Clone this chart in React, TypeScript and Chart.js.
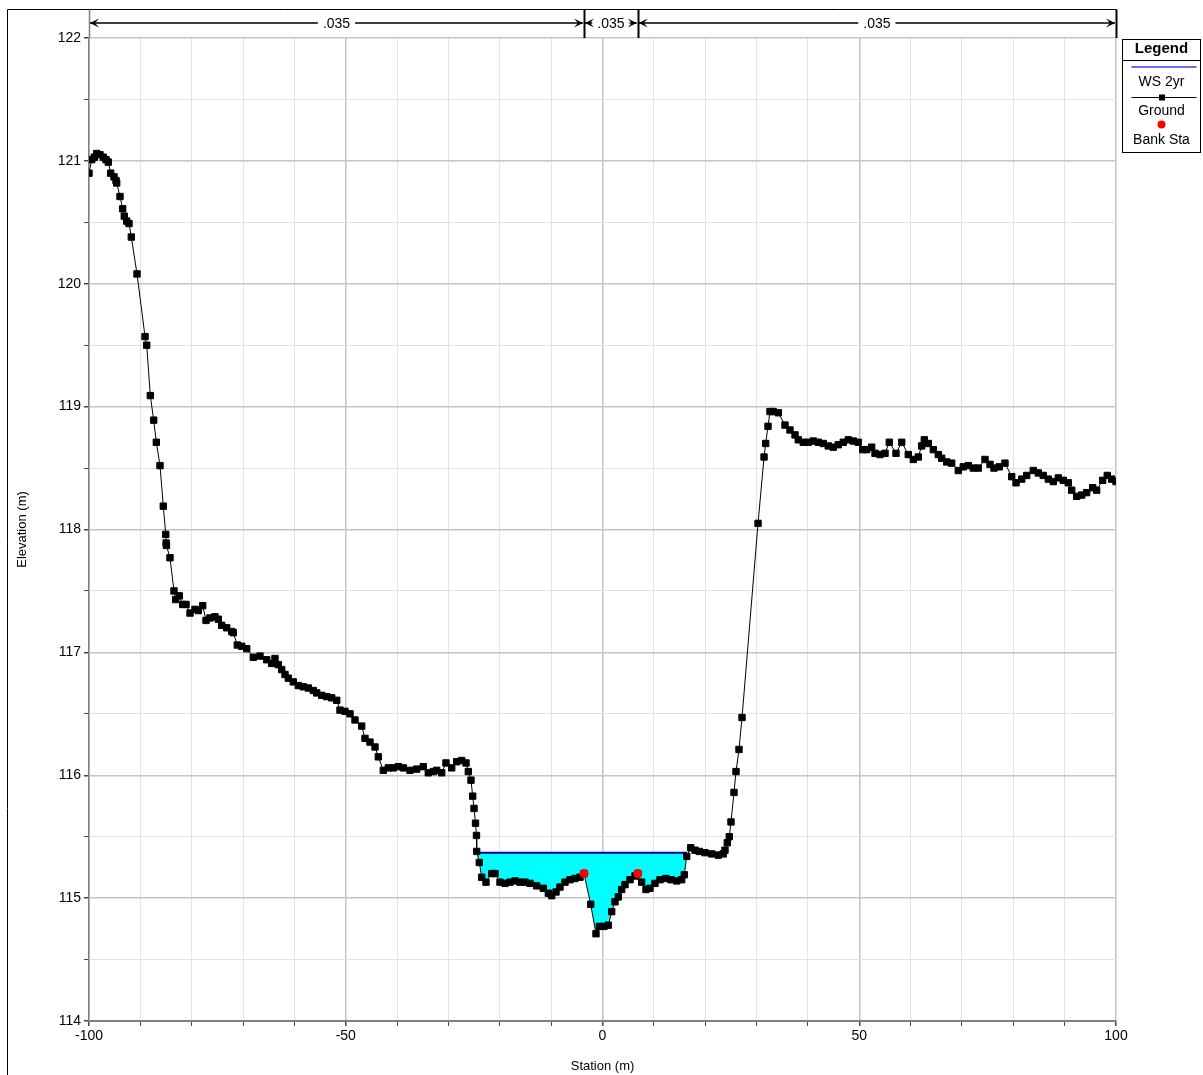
import React, { useEffect, useRef } from 'react';
import { Chart, registerables } from 'chart.js';

Chart.register(...registerables);

// ---------- data ----------
const groundStation = [
  -100.0, -99.47, -98.97, -98.5, -97.86, -97.22, -96.69, -96.24, -95.77, -95.13,
  -94.74, -94.61, -93.96, -93.44, -93.13, -92.66, -92.21, -91.76, -90.65, -89.09,
  -88.76, -88.06, -87.4, -86.89, -86.17, -85.53, -85.05, -84.98, -84.92, -84.23,
  -83.45, -83.12, -82.41, -81.75, -81.11, -80.33, -79.36, -78.71, -77.86, -77.21,
  -76.44, -75.47, -74.82, -74.16, -73.18, -72.21, -71.9, -71.12, -70.26, -69.29,
  -68.0, -66.7, -65.39, -64.42, -63.78, -63.14, -62.47, -61.83, -61.19, -60.21,
  -59.24, -58.27, -57.29, -56.32, -55.66, -54.68, -53.71, -52.74, -51.76, -51.12,
  -50.15, -49.17, -48.2, -46.89, -46.25, -45.28, -44.3, -43.66, -42.69, -41.71,
  -40.74, -39.77, -38.79, -37.49, -36.18, -34.9, -33.92, -32.95, -32.29, -31.31,
  -30.48, -29.37, -28.39, -27.42, -26.58, -26.13, -25.61, -25.28, -25.02, -24.73,
  -24.54, -24.5, -23.99, -23.52, -22.69, -21.58, -20.93, -19.96, -18.99, -18.01,
  -17.04, -16.07, -15.09, -14.12, -12.81, -11.53, -10.55, -9.89, -9.05, -8.28,
  -7.3, -6.33, -5.36, -4.38, -3.6, -2.3, -1.27, -0.62, 0.29, 1.13,
  1.79, 2.43, 3.08, 3.74, 4.38, 5.36, 6.33, 6.86, 7.63, 8.47,
  9.25, 10.22, 11.2, 12.36, 13.34, 14.45, 15.42, 15.93, 16.4, 17.18,
  18.01, 18.85, 19.96, 21.26, 22.55, 23.52, 23.86, 24.3, 24.69, 25.02,
  25.61, 26.0, 26.58, 27.17, 30.29, 31.46, 31.78, 32.23, 32.62, 33.26,
  34.24, 35.54, 36.51, 37.49, 38.13, 39.1, 40.08, 41.05, 42.02, 43.0,
  43.97, 44.94, 45.92, 46.89, 47.87, 48.84, 49.81, 50.67, 51.45, 52.42,
  53.07, 54.04, 55.02, 55.85, 57.16, 58.27, 59.55, 60.53, 61.5, 62.15,
  62.67, 63.45, 64.42, 65.39, 66.05, 67.03, 68.0, 69.29, 70.26, 71.24,
  72.21, 73.18, 74.49, 75.46, 76.24, 77.27, 78.38, 79.69, 80.53, 81.64,
  82.61, 83.89, 84.87, 85.84, 86.82, 87.79, 88.76, 89.73, 90.71, 91.37,
  92.34, 93.32, 94.29, 95.46, 96.23, 97.4, 98.3, 99.16, 100.0,
];

const groundElevation = [
  120.9, 121.01, 121.03, 121.06, 121.05, 121.03, 121.01, 120.99, 120.9, 120.87,
  120.84, 120.82, 120.71, 120.61, 120.55, 120.51, 120.49, 120.38, 120.08, 119.57,
  119.5, 119.09, 118.89, 118.71, 118.52, 118.19, 117.96, 117.89, 117.87, 117.77,
  117.5, 117.43, 117.46, 117.39, 117.39, 117.32, 117.35, 117.34, 117.38, 117.26,
  117.28, 117.29, 117.27, 117.22, 117.2, 117.17, 117.16, 117.06, 117.05, 117.03,
  116.96, 116.97, 116.94, 116.91, 116.95, 116.9, 116.86, 116.82, 116.79, 116.76,
  116.73, 116.72, 116.71, 116.69, 116.67, 116.65, 116.64, 116.63, 116.61, 116.53,
  116.52, 116.5, 116.45, 116.4, 116.3, 116.27, 116.23, 116.15, 116.04, 116.06,
  116.06, 116.07, 116.06, 116.04, 116.05, 116.07, 116.02, 116.03, 116.04, 116.02,
  116.1, 116.06, 116.11, 116.12, 116.1, 116.03, 115.96, 115.83, 115.73, 115.61,
  115.51, 115.38, 115.29, 115.17, 115.13, 115.2, 115.2, 115.13, 115.12, 115.13,
  115.14, 115.13, 115.13, 115.12, 115.1, 115.08, 115.04, 115.02, 115.05, 115.09,
  115.13, 115.15, 115.16, 115.17, 115.2, 114.95, 114.71, 114.77, 114.77, 114.78,
  114.89, 114.97, 115.01, 115.07, 115.11, 115.15, 115.18, 115.2, 115.13, 115.07,
  115.08, 115.12, 115.15, 115.16, 115.15, 115.14, 115.15, 115.19, 115.34, 115.41,
  115.39, 115.38, 115.37, 115.36, 115.35, 115.36, 115.39, 115.45, 115.5, 115.62,
  115.86, 116.03, 116.21, 116.47, 118.05, 118.59, 118.7, 118.84, 118.96, 118.96,
  118.95, 118.85, 118.81, 118.77, 118.73, 118.71, 118.71, 118.72, 118.71, 118.7,
  118.68, 118.67, 118.69, 118.71, 118.73, 118.72, 118.71, 118.65, 118.65, 118.67,
  118.62, 118.61, 118.62, 118.71, 118.62, 118.71, 118.61, 118.57, 118.59, 118.68,
  118.73, 118.7, 118.65, 118.61, 118.58, 118.55, 118.54, 118.48, 118.51, 118.52,
  118.5, 118.5, 118.57, 118.53, 118.5, 118.51, 118.54, 118.43, 118.38, 118.41,
  118.44, 118.48, 118.46, 118.44, 118.41, 118.39, 118.42, 118.4, 118.38, 118.32,
  118.27, 118.28, 118.3, 118.34, 118.32, 118.4, 118.44, 118.41, 118.39,
];

// water surface (null = break where ground is above WS)
const wsStation = [-24.44, 16.45, 17.5, 18.6, 23.7];
const wsElevation: (number | null)[] = [115.37, 115.37, null, 115.37, 115.37];

const bankStation = [-3.6, 6.86];
const bankElevation = [115.2, 115.2];

// Manning's n regions (break stations and values)
const nBreaks = [-100, -3.6, 6.86, 100];
const nValues = ['.035', '.035', '.035'];

const xLabelStations = [-100, -50, 0, 50, 100];
const yLabelElevations = [114, 115, 116, 117, 118, 119, 120, 121, 122];

const legendLabels = ['WS 2yr', 'Ground', 'Bank Sta'];
const xTitle = 'Station (m)';
const yTitle = 'Elevation (m)';

// ---------- styling ----------
const FONT = '"Liberation Sans", Arial, sans-serif';
const W = 1203;
const H = 1075;

const overlayPlugin = {
  id: 'hecOverlay',
  afterDraw(chart: any) {
    const { ctx, chartArea, scales } = chart;
    const xs = scales.x;
    ctx.save();

    // outer frame (top + left)
    ctx.strokeStyle = '#000';
    ctx.lineWidth = 1;
    ctx.beginPath();
    ctx.moveTo(7.5, H);
    ctx.lineTo(7.5, 9.5);
    ctx.lineTo(Math.round(chartArea.right) + 0.5, 9.5);
    ctx.stroke();

    // vertical lines for n-value breaks
    nBreaks.forEach((b, i) => {
      const px = Math.round(xs.getPixelForValue(b)) + 0.5;
      ctx.strokeStyle = i === 0 ? '#7f7f7f' : '#000';
      ctx.lineWidth = i === 0 ? 1.5 : 2;
      ctx.beginPath();
      ctx.moveTo(px, 9.5);
      ctx.lineTo(px, chartArea.top);
      ctx.stroke();
    });

    // arrows with labels
    const ay = 23;
    ctx.font = `14px ${FONT}`;
    ctx.textAlign = 'center';
    ctx.textBaseline = 'middle';
    for (let i = 0; i < nValues.length; i++) {
      const x0 = xs.getPixelForValue(nBreaks[i]) + 1;
      const x1 = xs.getPixelForValue(nBreaks[i + 1]) - 1;
      const mid = (x0 + x1) / 2;
      const tw = ctx.measureText(nValues[i]).width;
      const gap = tw / 2 + 5;
      ctx.strokeStyle = '#000';
      ctx.lineWidth = 1.3;
      ctx.beginPath();
      ctx.moveTo(x0, ay);
      ctx.lineTo(mid - gap, ay);
      ctx.moveTo(mid + gap, ay);
      ctx.lineTo(x1, ay);
      ctx.stroke();
      // arrow heads
      ctx.fillStyle = '#000';
      ctx.beginPath();
      ctx.moveTo(x0, ay);
      ctx.lineTo(x0 + 9, ay - 4.5);
      ctx.lineTo(x0 + 5, ay);
      ctx.lineTo(x0 + 9, ay + 4.5);
      ctx.closePath();
      ctx.fill();
      ctx.beginPath();
      ctx.moveTo(x1, ay);
      ctx.lineTo(x1 - 9, ay - 4.5);
      ctx.lineTo(x1 - 5, ay);
      ctx.lineTo(x1 - 9, ay + 4.5);
      ctx.closePath();
      ctx.fill();
      ctx.fillText(nValues[i], mid, ay + 1);
    }

    // axis titles
    ctx.fillStyle = '#000';
    ctx.font = `13px ${FONT}`;
    ctx.textAlign = 'center';
    ctx.textBaseline = 'middle';
    ctx.fillText(xTitle, (chartArea.left + chartArea.right) / 2, 1066);
    ctx.save();
    ctx.translate(22, (chartArea.top + chartArea.bottom) / 2);
    ctx.rotate(-Math.PI / 2);
    ctx.fillText(yTitle, 0, 0);
    ctx.restore();

    // legend
    const lx = 1122.5, ly = 39.5, lw = 78, lh = 113;
    const cx = lx + lw / 2;
    ctx.fillStyle = '#fff';
    ctx.fillRect(lx, ly, lw, lh);
    ctx.strokeStyle = '#000';
    ctx.lineWidth = 1;
    ctx.strokeRect(lx, ly, lw, lh);
    ctx.beginPath();
    ctx.moveTo(lx, 60.5);
    ctx.lineTo(lx + lw, 60.5);
    ctx.stroke();
    ctx.fillStyle = '#000';
    ctx.font = `bold 15px ${FONT}`;
    ctx.fillText('Legend', cx, 49);
    // WS line
    ctx.strokeStyle = '#3b3bf0';
    ctx.lineWidth = 1.5;
    ctx.beginPath();
    ctx.moveTo(lx + 9, 67);
    ctx.lineTo(lx + lw - 4, 67);
    ctx.stroke();
    ctx.font = `14px ${FONT}`;
    ctx.fillText(legendLabels[0], cx, 82);
    // ground line + square
    ctx.strokeStyle = '#000';
    ctx.lineWidth = 1;
    ctx.beginPath();
    ctx.moveTo(lx + 9, 97.5);
    ctx.lineTo(lx + lw - 4, 97.5);
    ctx.stroke();
    ctx.fillRect(cx + 0.5 - 3, 97.5 - 3, 6, 6);
    ctx.fillText(legendLabels[1], cx, 111);
    // bank dot
    ctx.fillStyle = '#ff0000';
    ctx.beginPath();
    ctx.arc(cx, 124.5, 4, 0, Math.PI * 2);
    ctx.fill();
    ctx.fillStyle = '#000';
    ctx.fillText(legendLabels[2], cx, 140);

    ctx.restore();
  },
};

export default function App() {
  const ref = useRef<HTMLCanvasElement | null>(null);

  useEffect(() => {
    if (!ref.current) return;
    const ground = groundStation.map((x, i) => ({ x, y: groundElevation[i] }));
    const ws = wsStation.map((x, i) => ({ x, y: wsElevation[i] }));
    const banks = bankStation.map((x, i) => ({ x, y: bankElevation[i] }));

    const chart = new Chart(ref.current, {
      type: 'line',
      data: {
        datasets: [
          {
            label: legendLabels[2],
            data: banks,
            showLine: false,
            pointStyle: 'circle',
            pointRadius: 4.5,
            pointBackgroundColor: '#ff0000',
            pointBorderWidth: 0,
            borderColor: '#ff0000',
          },
          {
            label: legendLabels[1],
            data: ground,
            borderColor: '#000',
            borderWidth: 1,
            pointStyle: 'rect',
            pointRadius: 4.5,
            pointBackgroundColor: '#000',
            pointBorderColor: '#000',
            pointBorderWidth: 1,
            fill: false,
          },
          {
            label: legendLabels[0],
            data: ws as any,
            borderColor: '#0000a8',
            borderWidth: 2,
            pointRadius: 0,
            spanGaps: false,
            fill: { target: 1, above: '#00ffff', below: 'rgba(0,0,0,0)' },
          },
        ],
      },
      options: {
        animation: false,
        responsive: false,
        devicePixelRatio: 1,
        events: [],
        layout: { padding: { top: 38, right: 87, left: 0, bottom: 0 } },
        elements: { line: { tension: 0 } },
        plugins: {
          legend: { display: false },
          tooltip: { enabled: false },
          title: { display: false },
        },
        scales: {
          x: {
            type: 'linear',
            min: -100,
            max: 100,
            afterFit: (s: any) => { s.height = 54; },
            ticks: {
              stepSize: 10,
              autoSkip: false,
              maxRotation: 0,
              padding: 2,
              color: '#000',
              font: { family: FONT, size: 14 },
              callback: (v: any) => (xLabelStations.includes(Number(v)) ? String(v) : ''),
            },
            grid: {
              color: (c: any) => (c.tick && c.tick.value % 50 === 0 ? '#c4c4c4' : '#e3e3e3'),
              lineWidth: (c: any) => (c.tick && c.tick.value % 50 === 0 ? 1.5 : 1),
              tickLength: 5,
              tickColor: '#444',
            },
            border: { color: '#7f7f7f', width: 2 },
          },
          y: {
            type: 'linear',
            min: 114,
            max: 122,
            afterFit: (s: any) => { s.width = 89; },
            ticks: {
              stepSize: 0.5,
              autoSkip: false,
              padding: 3,
              color: '#000',
              font: { family: FONT, size: 14 },
              callback: (v: any) => (yLabelElevations.includes(Number(v)) ? String(v) : ''),
            },
            grid: {
              color: (c: any) => (c.tick && Number.isInteger(c.tick.value) ? '#c4c4c4' : '#e3e3e3'),
              lineWidth: (c: any) => (c.tick && Number.isInteger(c.tick.value) ? 1.5 : 1),
              tickLength: 5,
              tickColor: '#444',
            },
            border: { color: '#7f7f7f', width: 1.5 },
          },
        },
      },
      plugins: [overlayPlugin],
    });
    return () => chart.destroy();
  }, []);

  return (
    <div style={{ position: 'absolute', left: 0, top: 0, width: W, height: H, background: '#fff' }}>
      <canvas ref={ref} width={W} height={H} style={{ display: 'block', width: W, height: H }} />
    </div>
  );
}
